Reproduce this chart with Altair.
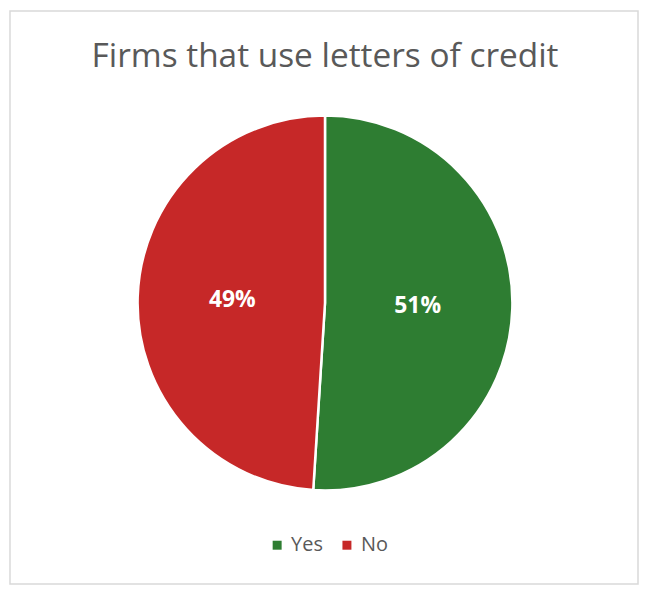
import altair as alt
import pandas as pd

categories = ["Yes", "No"]
values = [51, 49]
colors = ["#2E7D32", "#C62828"]
title_text = "Firms that use letters of credit"

df = pd.DataFrame({
    "answer": categories,
    "share": values,
    "label": [f"{v}%" for v in values],
    "order": list(range(len(categories))),
})

W, H = 630, 575
CX, CY = 316, 293
R = 188

base = alt.Chart(df).encode(
    theta=alt.Theta("share:Q", stack=True),
    order=alt.Order("order:Q"),
)

pie = base.mark_arc(radius=R, stroke="white", strokeWidth=2.5).encode(
    x=alt.value(CX),
    y=alt.value(CY),
    color=alt.Color(
        "answer:N",
        scale=alt.Scale(domain=categories, range=colors),
        sort=categories,
        legend=alt.Legend(
            title=None,
            orient="none",
            legendX=258,
            legendY=526,
            direction="horizontal",
            symbolType="square",
            symbolSize=81,
            symbolStrokeWidth=0,
            labelFontSize=20,
            labelFont="Open Sans",
            labelColor="#595959",
            columnPadding=14,
            labelOffset=4,
        ),
    ),
)

text = base.mark_text(
    radius=93, font="Open Sans", fontSize=23, fontWeight="bold", color="white"
).encode(
    x=alt.value(CX),
    y=alt.value(CY),
    text="label:N",
)

title = alt.Chart(pd.DataFrame({"t": [title_text]})).mark_text(
    font="Open Sans", fontSize=33.5, color="#595959"
).encode(x=alt.value(W / 2 + 1), y=alt.value(46), text="t:N")

chart = alt.layer(pie, text, title).properties(
    width=W, height=H, padding=2
).configure_view(stroke="#d9d9d9", strokeWidth=1.5)

chart.save("out.html", embed_options={"renderer": "svg", "actions": False})
